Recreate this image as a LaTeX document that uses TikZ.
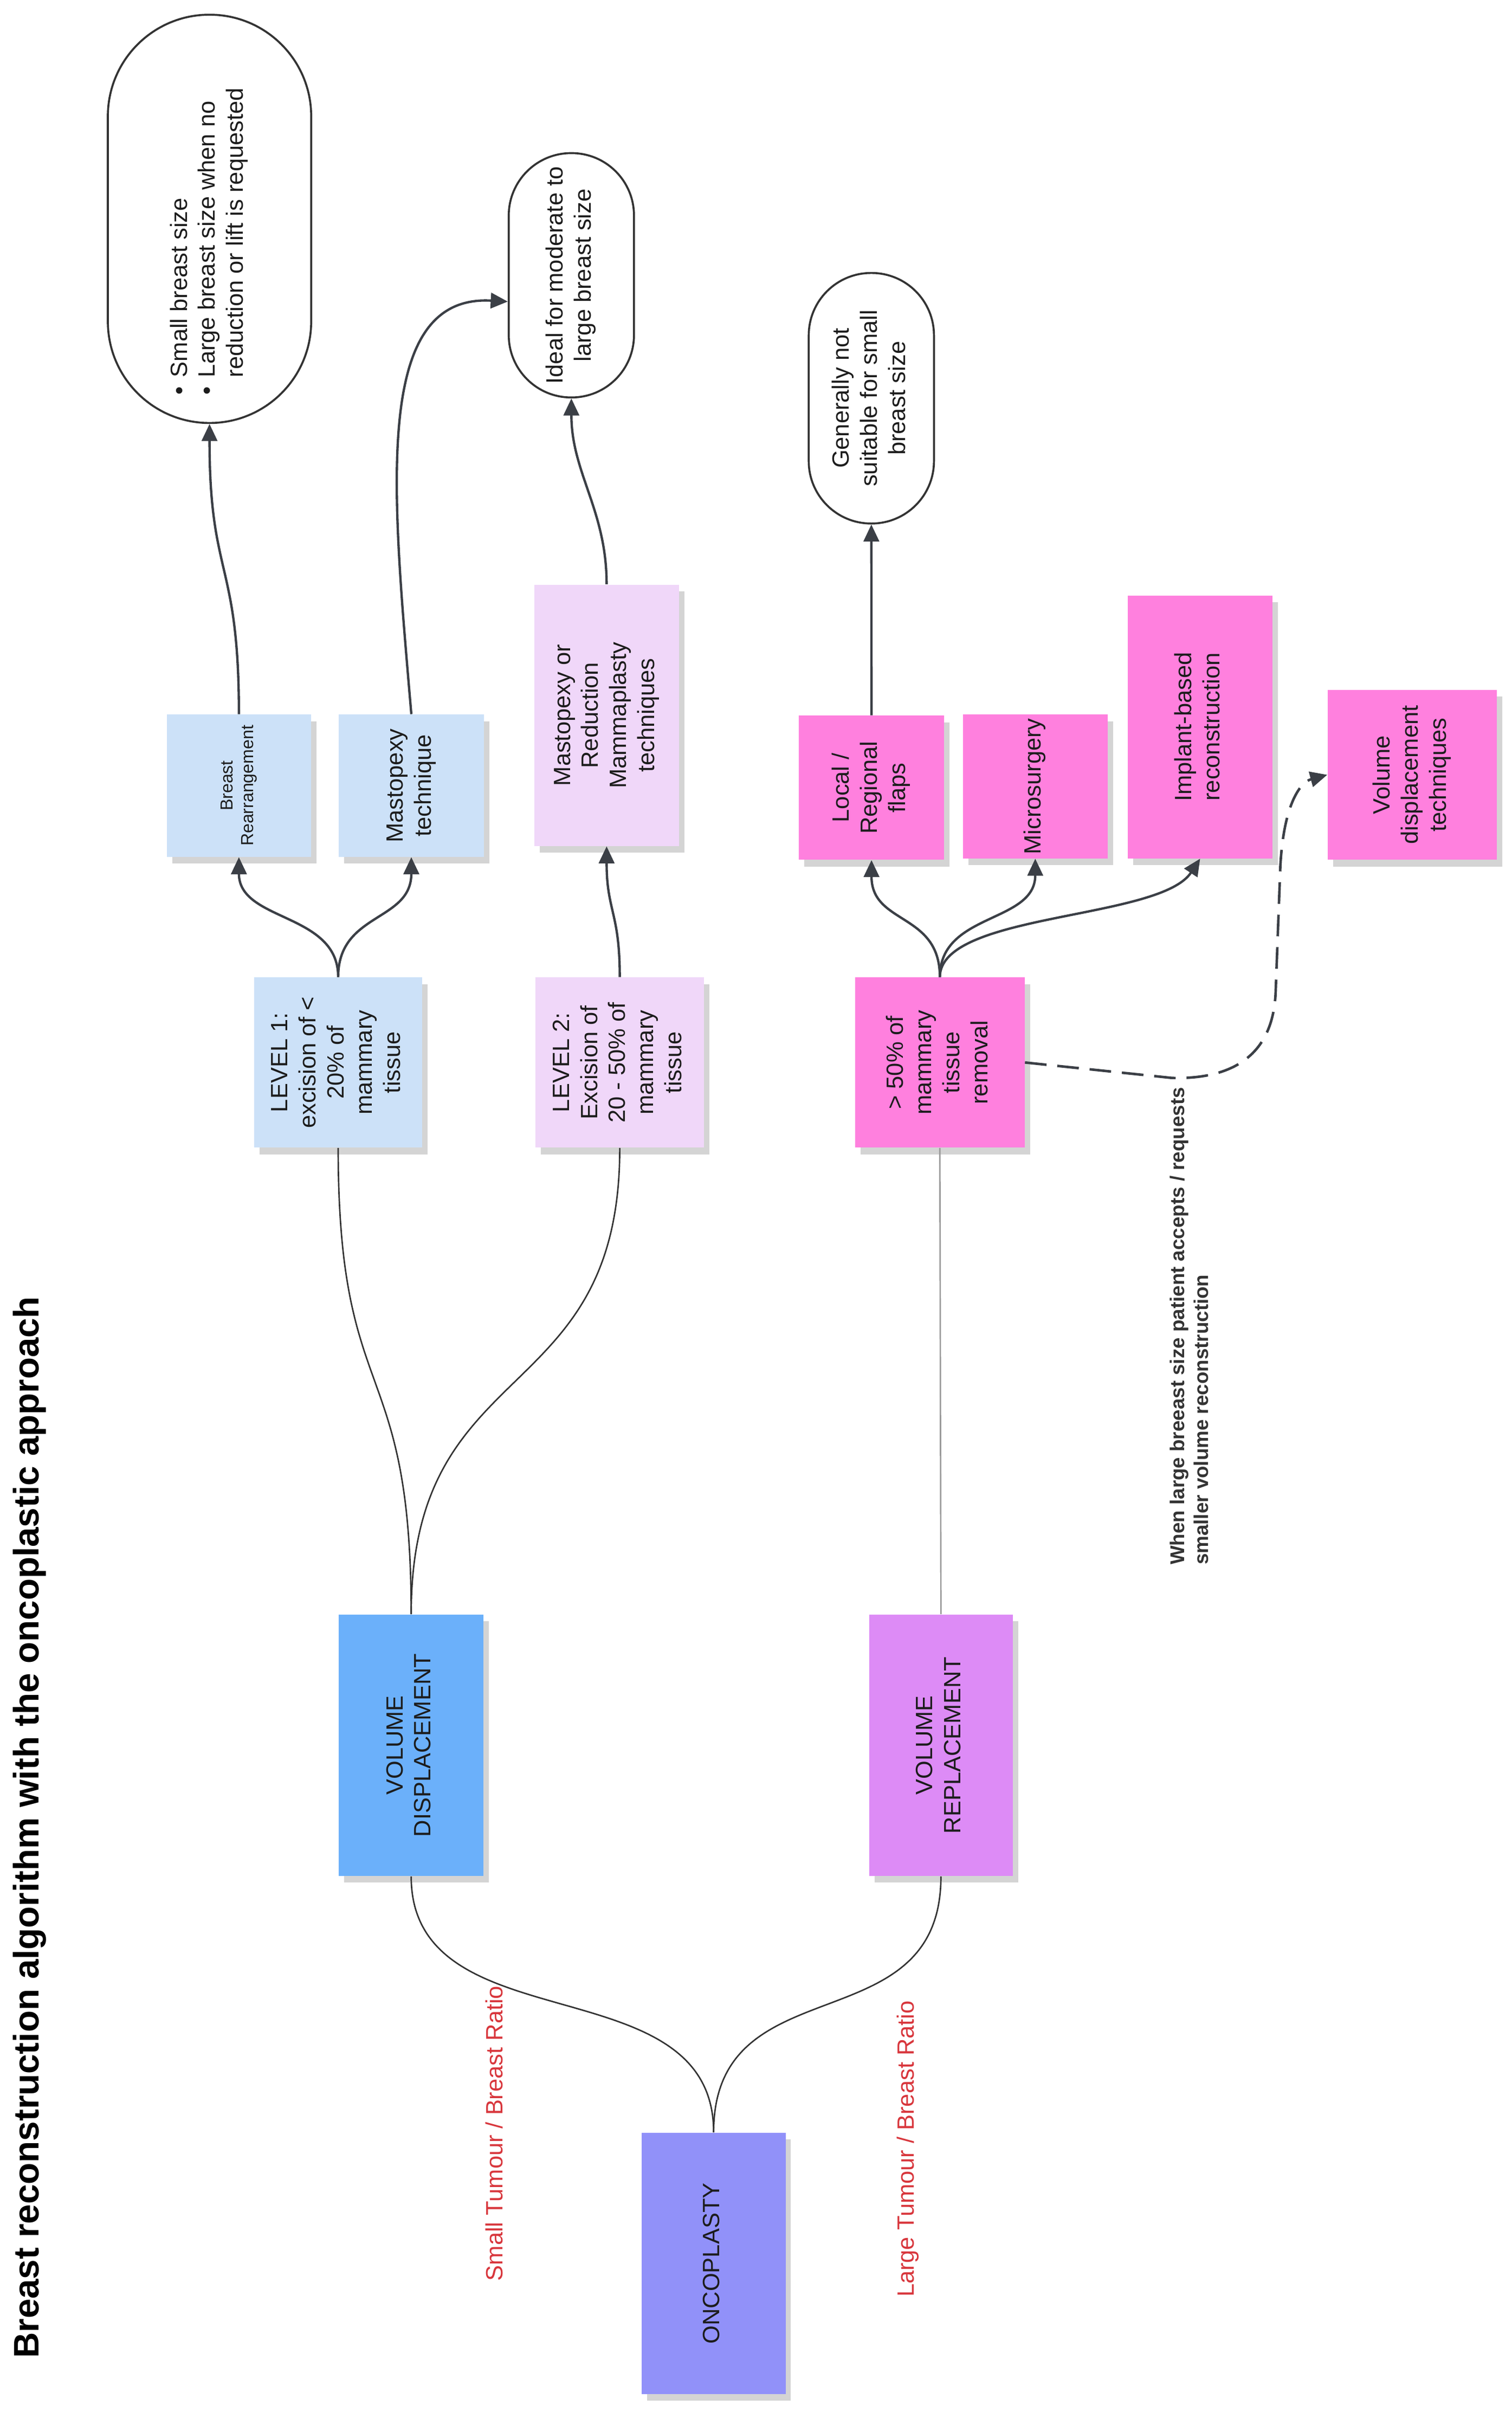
\documentclass[tikz,border=0pt]{standalone}
\usepackage{fontspec}
\setmainfont{Liberation Sans}
\usepackage{graphicx}
\usetikzlibrary{arrows.meta,shadows}
\newlength\unitl
\setlength\unitl{0.03cm}
\definecolor{cOnco}{HTML}{9191F9}
\definecolor{cVD}{HTML}{6BB0FA}
\definecolor{cVR}{HTML}{DD8BF6}
\definecolor{cLB}{HTML}{CCE1F8}
\definecolor{cLav}{HTML}{F0D7F9}
\definecolor{cPink}{HTML}{FF80DE}
\definecolor{cLine}{HTML}{3B3F46}
\definecolor{cDark}{HTML}{333333}
\definecolor{cGray}{HTML}{9A9A9A}
\definecolor{cRed}{HTML}{D8363C}
\definecolor{cTxt}{HTML}{1C1C1C}
\newcommand\rtx[1]{\rotatebox{90}{\begin{tabular}{@{}c@{}}#1\end{tabular}}}
\tikzset{
  card/.style={rectangle, inner sep=0pt, text=cTxt,
    font=\fontsize{13pt}{15.5pt}\selectfont,
    drop shadow={shadow xshift=0.105cm, shadow yshift=-0.13cm, fill=black, opacity=0.17}},
  stadium/.style={rectangle, draw=cDark, line width=1.1pt, fill=white, inner sep=0pt,
    text=cTxt, font=\fontsize{13pt}{15.5pt}\selectfont},
  link/.style={draw=cDark, line width=0.8pt},
  grayline/.style={draw=cGray, line width=0.8pt},
  arrowlink/.style={draw=cLine, line width=1.3pt, -{Triangle[length=0.33cm, width=0.3cm]}},
  dashlink/.style={arrowlink, line width=1.4pt, dash pattern=on 0.42cm off 0.21cm},
  redlabel/.style={rotate=90, anchor=base west, inner sep=0pt, text=cRed,
    font=\fontsize{13pt}{15.5pt}\selectfont},
}
\begin{document}
\begin{tikzpicture}[x=0.03cm, y=-0.03cm]
\path[use as bounding box, fill=white] (0,0) rectangle (977.5,1568);

% title
\node[rotate=90, anchor=base west, inner sep=0pt, text=black,
  font=\bfseries\fontsize{19.6pt}{24pt}\selectfont] (title) at (25,1525)
  {Breast reconstruction algorithm with the oncoplastic approach};

% main cards
\node[card, fill=cOnco, minimum width=93\unitl, minimum height=169\unitl] (onco) at (461.5,1463.5) {\rtx{ONCOPLASTY}};
\node[card, fill=cVD, minimum width=93.7\unitl, minimum height=169\unitl] (vd) at (265.9,1128.5) {\rtx{VOLUME\\DISPLACEMENT}};
\node[card, fill=cVR, minimum width=93\unitl, minimum height=169\unitl] (vr) at (608.5,1128.5) {\rtx{VOLUME\\REPLACEMENT}};

\node[card, fill=cLB, minimum width=108.6\unitl, minimum height=110\unitl] (l1) at (218.7,687) {\rtx{LEVEL 1:\\excision of <\\20\% of\\mammary\\tissue}};
\node[card, fill=cLav, minimum width=109\unitl, minimum height=110\unitl] (l2) at (400.8,687) {\rtx{LEVEL 2:\\Excision of\\20 - 50\% of\\mammary\\tissue}};
\node[card, fill=cPink, minimum width=109.6\unitl, minimum height=110\unitl] (l3) at (607.8,687) {\rtx{> 50\% of\\mammary\\tissue\\removal}};

\node[card, fill=cLB, minimum width=93\unitl, minimum height=92\unitl,
  font=\fontsize{9.6pt}{11.6pt}\selectfont] (br) at (154.5,508) {\rtx{Breast\\Rearrangement}};
\node[card, fill=cLB, minimum width=94\unitl, minimum height=92\unitl] (mt) at (266,508) {\rtx{Mastopexy\\technique}};
\node[card, fill=cLav, minimum width=93.4\unitl, minimum height=169\unitl] (mr) at (392.3,462.5) {\rtx{Mastopexy or\\Reduction\\Mammaplasty\\techniques}};

\node[card, fill=cPink, minimum width=93.8\unitl, minimum height=93.2\unitl] (lr) at (563.6,509.3) {\rtx{Local /\\Regional\\flaps}};
\node[card, fill=cPink, minimum width=93.5\unitl, minimum height=93\unitl] (ms) at (669.5,508.5) {\rtx{Microsurgery}};
\node[card, fill=cPink, minimum width=93.6\unitl, minimum height=170\unitl] (ib) at (776.1,470) {\rtx{Implant-based\\reconstruction}};
\node[card, fill=cPink, minimum width=109.5\unitl, minimum height=110\unitl] (vdt) at (913.3,501) {\rtx{Volume\\displacement\\techniques}};

% stadium notes
\node[stadium, minimum width=131.5\unitl, minimum height=264\unitl, rounded corners=1.97cm] (e1) at (135.5,141.5)
  {\rotatebox{90}{\begin{tabular}{@{}l@{\hspace{5pt}}l@{}}\textbullet & Small breast size\\ \textbullet & Large breast size when no\\ & reduction or lift is requested\end{tabular}\hspace{0.87cm}}};
\node[stadium, minimum width=81\unitl, minimum height=158\unitl, rounded corners=1.21cm] (e2) at (369.5,178)
  {\rtx{Ideal for moderate to\\large breast size}};
\node[stadium, minimum width=81\unitl, minimum height=162\unitl, rounded corners=1.21cm] (e3) at (563.5,257.5)
  {\rtx{Generally not\\suitable for small\\breast size}};

% labels
\node[redlabel] (lsmall) at (325,1475) {Small Tumour / Breast Ratio};
\node[redlabel] (llarge) at (591,1485.5) {Large Tumour / Breast Ratio};
\node[rotate=90, anchor=west, inner sep=0pt, align=left, text=cDark,
  font=\bfseries\fontsize{11pt}{13.3pt}\selectfont] (lwhen) at (769,1012)
  {When large breeast size patient accepts / requests\\smaller volume reconstruction};

% thin connectors
\draw[link] (onco.north) .. controls +(0,-110) and +(0,110) .. (vd.south);
\draw[link] (onco.north) .. controls +(0,-110) and +(0,110) .. (vr.south);
\draw[link] (vd.north) .. controls +(0,-170) and +(0,170) .. (l1.south);
\draw[link] (vd.north) .. controls +(0,-170) and +(0,170) .. (l2.south);
\draw[grayline] (vr.north) -- (l3.south);

% arrows
\draw[arrowlink] (l1.north) .. controls +(0,-42) and +(0,42) .. (br.south);
\draw[arrowlink] (l1.north) .. controls +(0,-42) and +(0,42) .. (mt.south);
\draw[arrowlink] (l2.north) .. controls +(0,-42) and +(0,42) .. (mr.south);
\draw[arrowlink] (br.north) .. controls +(0,-100) and +(0,100) .. (e1.south);
\draw[arrowlink] (mt.north) .. controls (254,320) and (240,190) .. ([yshift=-0.51cm]e2.west);
\draw[arrowlink] (mr.north) .. controls +(0,-48) and +(0,48) .. (e2.south);
\draw[arrowlink] (l3.north) .. controls +(0,-42) and +(0,42) .. (lr.south);
\draw[arrowlink] (l3.north) .. controls +(0,-42) and +(0,42) .. (ms.south);
\draw[arrowlink] (l3.north) .. controls (608,590) and (750,595) .. (ib.south);
\draw[arrowlink] (lr.north) -- (e3.south);
\draw[dashlink] (l3.east) -- (758,697) .. controls (800,698) and (824,680) .. (825,640)
  -- (828,560) .. controls (830,522) and (840,506) .. (vdt.west);
\end{tikzpicture}
\end{document}
